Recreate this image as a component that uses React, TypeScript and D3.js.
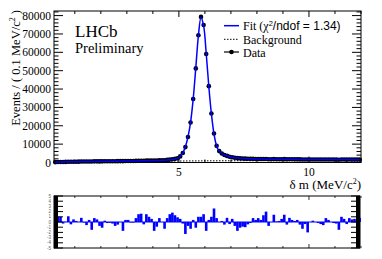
import * as d3 from "d3";
import React from "react";

// delta m histogram, 0.1 MeV bins from 0.2 to 12.0
const binWidth = 0.1;
const massBins = d3.range(118).map((i) => +(0.25 + binWidth * i).toFixed(2));

const fitValues = [
  180, 220, 260, 295, 330, 360, 390, 420, 445, 470, 495, 515, 535, 555, 575, 595, 612, 630, 646, 662,
  678, 694, 710, 726, 742, 758, 775, 792, 810, 828, 847, 867, 888, 910, 935, 962, 992, 1025, 1062, 1105,
  1155, 1215, 1290, 1385, 1510, 1680, 1920, 2280,
  3300, 5200, 8600, 14000, 22000, 34500, 51500, 69000, 79000, 74500, 59500, 41500, 26500, 15500, 9000,
  6200, 4900, 4100, 3550, 3150, 2850, 2620, 2450, 2320, 2220, 2140, 2070, 2010, 1960, 1920, 1885,
  1860, 1845, 1830, 1818, 1806, 1795, 1784, 1774, 1764, 1754, 1745, 1736, 1727, 1718, 1710, 1702, 1694,
  1686, 1678, 1670, 1662, 1655, 1648, 1641, 1634, 1627, 1620, 1613, 1606, 1600, 1594, 1588, 1582, 1576,
  1570, 1564, 1558, 1552, 1546,
];

const dataValues = [
  193, 235, 276, 290, 331, 381, 381, 430, 449, 470, 513, 513, 521, 564, 539, 613, 624, 611, 618, 668,
  673, 690, 702, 706, 728, 758, 728, 803, 821, 825, 844, 889, 933, 958, 921, 1009, 1023, 1044, 1007, 1075,
  1180, 1215, 1243, 1413, 1568, 1754, 1977, 2323,
  3334, 5178, 8387, 13911, 21807, 34574, 51250, 69263, 79281, 74909, 59085, 41581, 26663, 15824, 9071,
  6200, 4914, 4068, 3598, 3128, 2882, 2582, 2366, 2267, 2178, 2094, 2050, 2001, 1993, 1938, 1918,
  1877, 1901, 1916, 1786, 1806, 1854, 1788, 1782, 1789, 1813, 1724, 1769, 1744, 1726, 1727, 1681, 1641,
  1670, 1596, 1670, 1672, 1655, 1640, 1625, 1610, 1657, 1636, 1613, 1598, 1588, 1534, 1628, 1606, 1560,
  1600, 1584, 1582, 1568, 1577,
];

const pullValues = [
  1.0, 1.0, 1.0, -0.3, 0.05, 1.1, -0.45, 0.5, 0.2, 0.0, 0.8, -0.1, -0.6, 0.4, -1.5, 0.75, 0.5, -0.75, -1.1, 0.25,
  -0.2, -0.15, -0.3, -0.75, -0.5, 0.0, -1.7, 0.4, 0.4, -0.1, -0.1, 0.75, 1.5, 1.6, -0.45, 1.5, 1.0, 0.6, -1.7, -0.9,
  0.75, 0.0, -1.3, 0.75, 1.5, 1.8, 1.3, 0.9, 0.6, -0.3, -2.3, -0.75, -1.3, 0.4, -1.1, 1.0, 1.0, 1.5, -1.7, 0.4,
  1.0, 2.6, 0.75, 0.0, 0.2, -0.5, 0.8, -0.4, 0.6, -0.75, -1.7, -1.1, -0.9, -1.0, -0.45, -0.2, 0.75, 0.4, 0.75, 0.4,
  1.3, 2.0, -0.75, 0.0, 1.4, 0.1, 0.2, 0.6, 1.4, -0.5, 0.8, 0.4, 0.2, 0.4, -0.5, -1.3, -0.4, -2.0, 0.0, 0.25,
  0.0, -0.2, -0.4, -0.6, 0.75, 0.4, 0.0, -0.2, -0.3, -1.5, 1.0, 0.6, -0.4, 0.75, 0.5, 0.6, 0.4, 0.8,
];

const bkgMass = [0.2, 0.5, 1, 2, 3, 4, 5, 6, 7, 8, 9, 10, 11, 12];
const bkgValues = [60, 150, 260, 420, 560, 700, 820, 900, 960, 1010, 1050, 1085, 1115, 1140];

const yTicks = [0, 10000, 20000, 30000, 40000, 50000, 60000, 70000, 80000];
const xLabelTicks = [5, 10];
const pullTicks = [-5, -4, -3, -2, -1, 0, 1, 2, 3, 4, 5];

const SERIF = "'Liberation Serif', 'Times New Roman', serif";
const SANS = "'Liberation Sans', Arial, sans-serif";
const BLUE = "#0000ff";

export default function App() {
  const W = 382;
  const H = 259;
  const main = { left: 54, right: 361, top: 11, bottom: 162.5 };
  const pull = { left: 54, right: 360, top: 196, bottom: 248 };

  const x = d3.scaleLinear().domain([0.2, 12.0]).range([main.left, main.right]);
  const y = d3.scaleLinear().domain([0, 82500]).range([main.bottom, main.top]);
  const yp = d3.scaleLinear().domain([-5, 5]).range([pull.bottom, pull.top]);

  const fitLine = d3
    .line<number>()
    .x((_, i) => x(massBins[i]))
    .y((d) => y(d))
    .curve(d3.curveCatmullRom);

  const bkgLine = d3
    .line<number>()
    .x((_, i) => x(bkgMass[i]))
    .y((d) => y(d));

  const minorX = d3.range(1, 13);
  const minorY = d3.range(0, 82001, 2000);
  const bw = x(binWidth) - x(0);

  return (
    <svg
      width={W}
      height={H}
      viewBox={`0 0 ${W} ${H}`}
      style={{ position: "absolute", left: 0, top: 0, background: "#fff" }}
    >
      {/* main frame */}
      <rect
        x={main.left}
        y={main.top}
        width={main.right - main.left}
        height={main.bottom - main.top}
        fill="none"
        stroke="#000"
        strokeWidth={1}
      />

      {/* x ticks bottom + top */}
      {minorX.map((v) => {
        const len = v % 5 === 0 ? 6 : 3;
        return (
          <g key={`xt${v}`} stroke="#000" strokeWidth={1}>
            <line x1={x(v)} x2={x(v)} y1={main.bottom} y2={main.bottom - len} />
            <line x1={x(v)} x2={x(v)} y1={main.top} y2={main.top + len} />
          </g>
        );
      })}

      {/* y ticks left + right */}
      {minorY.map((v) => {
        const len = v % 10000 === 0 ? 9 : 4.5;
        return (
          <g key={`yt${v}`} stroke="#000" strokeWidth={1}>
            <line x1={main.left} x2={main.left + len} y1={y(v)} y2={y(v)} />
            <line x1={main.right} x2={main.right - len} y1={y(v)} y2={y(v)} />
          </g>
        );
      })}

      {yTicks.map((v) => (
        <text
          key={`yl${v}`}
          x={51}
          y={y(v) + 4}
          textAnchor="end"
          fontFamily={SERIF}
          fontSize={11.5}
          fill="#000"
        >
          {v}
        </text>
      ))}

      {xLabelTicks.map((v) => (
        <text
          key={`xl${v}`}
          x={x(v)}
          y={176}
          textAnchor="middle"
          fontFamily={SERIF}
          fontSize={11.5}
          fill="#000"
        >
          {v}
        </text>
      ))}

      <text x={361} y={189} textAnchor="end" fontFamily={SERIF} fontSize={13} fill="#000">
        δ m (MeV/c
        <tspan dy={-5} fontSize={8}>
          2
        </tspan>
        <tspan dy={5}>)</tspan>
      </text>

      <text
        transform="translate(19.5,10) rotate(-90)"
        textAnchor="end"
        fontFamily={SERIF}
        fontSize={12.5}
        fill="#000"
      >
        Events / ( 0.1 MeV/c
        <tspan dy={-5} fontSize={8}>
          2
        </tspan>
        <tspan dy={5}> )</tspan>
      </text>

      <text x={75} y={37} fontFamily={SERIF} fontSize={17} fill="#000">
        LHCb
      </text>
      <text x={75} y={53} fontFamily={SERIF} fontSize={14.5} fill="#000">
        Preliminary
      </text>

      {/* data points */}
      <g>
        {dataValues.map((d, i) => {
          const err = Math.sqrt(d);
          return (
            <g key={`d${i}`}>
              <line
                x1={x(massBins[i])}
                x2={x(massBins[i])}
                y1={y(d - err)}
                y2={y(d + err)}
                stroke="#000"
                strokeWidth={1}
              />
              <circle cx={x(massBins[i])} cy={y(d)} r={2.3} fill="#000" />
            </g>
          );
        })}
      </g>

      {/* background */}
      <path
        d={bkgLine(bkgValues) ?? ""}
        fill="none"
        stroke="#000"
        strokeWidth={1}
        strokeDasharray="1.5,1.5"
      />

      {/* fit */}
      <path d={fitLine(fitValues) ?? ""} fill="none" stroke={BLUE} strokeWidth={1.5} />

      {/* legend */}
      <line x1={224} x2={239} y1={25.7} y2={25.7} stroke={BLUE} strokeWidth={1.5} />
      <text x={243} y={30} fontSize={12} fill="#000">
        <tspan fontFamily={SERIF}>Fit (χ</tspan>
        <tspan fontFamily={SANS} dy={-4.5} fontSize={7.5}>
          2
        </tspan>
        <tspan fontFamily={SANS} dy={4.5}>
          /ndof = 1.34)
        </tspan>
      </text>
      <line
        x1={224}
        x2={239}
        y1={39.3}
        y2={39.3}
        stroke="#000"
        strokeWidth={1}
        strokeDasharray="1.5,1.5"
      />
      <text x={243} y={43.5} fontFamily={SERIF} fontSize={12} fill="#000">
        Background
      </text>
      <line x1={224} x2={239} y1={52} y2={52} stroke="#000" strokeWidth={1.2} />
      <circle cx={231.5} cy={52} r={2.3} fill="#000" />
      <text x={243} y={56.5} fontFamily={SERIF} fontSize={12} fill="#000">
        Data
      </text>

      {/* pull pad */}
      <rect
        x={pull.left}
        y={pull.top}
        width={pull.right - pull.left}
        height={pull.bottom - pull.top}
        fill="none"
        stroke="#000"
        strokeWidth={1}
      />
      {pullValues.map((p, i) => {
        const x0 = x(massBins[i]) - bw / 2;
        return (
          <rect
            key={`p${i}`}
            x={x0}
            y={Math.min(yp(p), yp(0))}
            width={bw}
            height={Math.abs(yp(p) - yp(0))}
            fill={BLUE}
          />
        );
      })}
      <line x1={pull.left} x2={pull.right} y1={yp(0)} y2={yp(0)} stroke={BLUE} strokeWidth={1} />

      <rect x={pull.left} y={pull.top} width={4} height={pull.bottom - pull.top} fill="#000" />
      <rect x={pull.right - 4} y={pull.top} width={4} height={pull.bottom - pull.top} fill="#000" />
      {pullTicks.map((v) => (
        <g key={`pt${v}`}>
          <line x1={pull.left} x2={pull.left + 9} y1={yp(v)} y2={yp(v)} stroke="#000" strokeWidth={1} />
          <line x1={pull.right} x2={pull.right - 9} y1={yp(v)} y2={yp(v)} stroke="#000" strokeWidth={1} />
          <text
            x={51}
            y={yp(v) + 1.5}
            textAnchor="end"
            fontFamily={SANS}
            fontSize={4.5}
            fill="#666"
          >
            {v}
          </text>
        </g>
      ))}
      {minorX.map((v) => {
        const len = v % 5 === 0 ? 4 : 2;
        return (
          <g key={`pxt${v}`} stroke="#000" strokeWidth={0.8}>
            <line x1={x(v)} x2={x(v)} y1={pull.bottom} y2={pull.bottom - len} />
            <line x1={x(v)} x2={x(v)} y1={pull.top} y2={pull.top + len} />
          </g>
        );
      })}
    </svg>
  );
}
